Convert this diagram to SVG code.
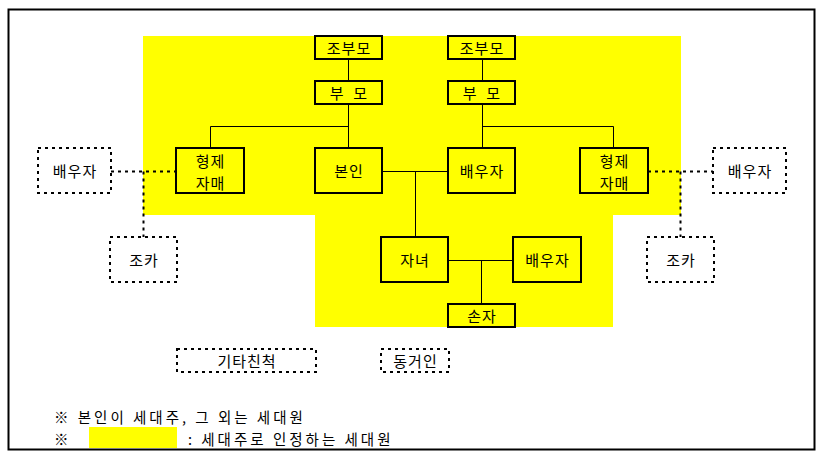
<svg xmlns="http://www.w3.org/2000/svg" width="827" height="462" viewBox="0 0 827 462">
<style>
text{font-family:"Noto Sans CJK KR","Liberation Sans",sans-serif;font-size:15px;fill:#000;text-anchor:middle;dominant-baseline:central;letter-spacing:1px}
.box{fill:none;stroke:#000;stroke-width:2}
.dbox{fill:none;stroke:#000;stroke-width:2;stroke-dasharray:3 4}
.ln{stroke:#000;stroke-width:1;fill:none}
.dl{stroke:#000;stroke-width:2;stroke-dasharray:3 4;fill:none}
text.note{text-anchor:start;letter-spacing:3px;font-size:14.5px}
</style>
<rect x="0" y="0" width="827" height="462" fill="#fff"/>
<rect x="8.5" y="9.5" width="806" height="440" fill="none" stroke="#000" stroke-width="2"/>
<path d="M143 36H681V215H613V327H315V215H143Z" fill="#ffff00"/>
<g id="connectors">
<path class="ln" d="M348.5 59V81M482.5 59V81M348.5 104V148M210.5 148V126.5H348.5M482.5 104V148M482.5 126.5H613.5V148M382 171.5H448M415.5 171.5V237M448 260.5H513M481.5 260.5V304"/>
<path class="dl" d="M111 171.5H176M143.5 171.5V237M648 171.5H713M680.5 171.5V237"/>
</g>
<g id="gp-left"><rect class="box" x="315" y="36" width="67" height="23"/><text x="349" y="47.5">조부모</text></g>
<g id="gp-right"><rect class="box" x="448" y="36" width="67" height="23"/><text x="482" y="47.5">조부모</text></g>
<g id="p-left"><rect class="box" x="315" y="81" width="67" height="23"/><text x="349" y="92.5" xml:space="preserve">부  모</text></g>
<g id="p-right"><rect class="box" x="448" y="81" width="67" height="23"/><text x="482" y="92.5" xml:space="preserve">부  모</text></g>
<g id="sib-left"><rect class="box" x="176" y="148" width="68" height="45"/><text x="210.5" y="160">형제</text><text x="210.5" y="182">자매</text></g>
<g id="self"><rect class="box" x="315" y="148" width="67" height="45"/><text x="349" y="170.5">본인</text></g>
<g id="spouse"><rect class="box" x="448" y="148" width="67" height="45"/><text x="482" y="170.5">배우자</text></g>
<g id="sib-right"><rect class="box" x="580" y="148" width="68" height="45"/><text x="614.5" y="160">형제</text><text x="614.5" y="182">자매</text></g>
<g id="sp-left"><rect class="dbox" x="38" y="148" width="73" height="45"/><text x="75" y="170.5">배우자</text></g>
<g id="sp-right"><rect class="dbox" x="713" y="148" width="73" height="45"/><text x="750" y="170.5">배우자</text></g>
<g id="nephew-left"><rect class="dbox" x="110" y="237" width="67" height="45"/><text x="144" y="259.5">조카</text></g>
<g id="nephew-right"><rect class="dbox" x="647" y="237" width="67" height="45"/><text x="681" y="259.5">조카</text></g>
<g id="child"><rect class="box" x="381" y="237" width="67" height="45"/><text x="415" y="259.5">자녀</text></g>
<g id="child-spouse"><rect class="box" x="513" y="237" width="68" height="45"/><text x="547.5" y="259.5">배우자</text></g>
<g id="grandchild"><rect class="box" x="448" y="304" width="67" height="23"/><text x="482" y="315.5">손자</text></g>
<g id="other"><rect class="dbox" x="177" y="349" width="139" height="23"/><text x="247" y="360.5">기타친척</text></g>
<g id="cohab"><rect class="dbox" x="381" y="349" width="68" height="23"/><text x="415.5" y="360.5">동거인</text></g>
<rect x="89" y="427" width="88" height="21" fill="#ffff00"/>
<text class="note" x="54" y="416">※ 본인이 세대주, 그 외는 세대원</text>
<text class="note" x="54" y="438">※</text>
<text class="note" x="188" y="438">: 세대주로 인정하는 세대원</text>
</svg>
